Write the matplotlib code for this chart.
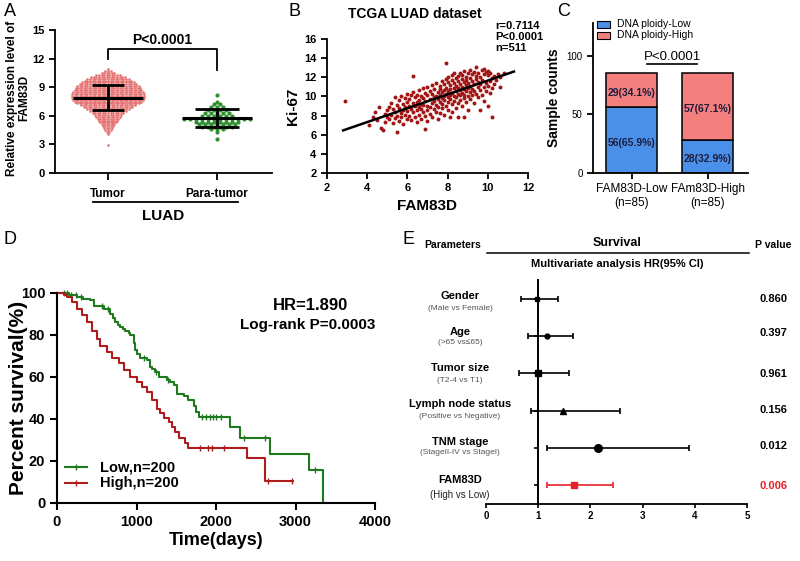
import numpy as np
import matplotlib
matplotlib.use('Agg')
import matplotlib.pyplot as plt
from matplotlib.lines import Line2D
from matplotlib.patches import Rectangle

plt.rcParams['font.family'] = ['Liberation Sans', 'DejaVu Sans']
plt.rcParams['font.weight'] = 'bold'
plt.rcParams['axes.labelweight'] = 'bold'
plt.rcParams['axes.titleweight'] = 'bold'
plt.rcParams['axes.linewidth'] = 1.3

# ---------------- DATA ----------------
# Panel A: beeswarm levels (value) and number of dots at each level
tumor_levels = [2.9, 4.1, 4.3, 4.5, 4.7, 4.9, 5.1, 5.3, 5.5, 5.7, 5.9, 6.1, 6.3, 6.5, 6.7, 6.9,
                7.1, 7.3, 7.5, 7.7, 7.9, 8.1, 8.3, 8.5, 8.7, 8.9, 9.1, 9.3, 9.5, 9.7, 9.9,
                10.1, 10.3, 10.5, 10.7, 10.9]
tumor_counts = [1, 1, 2, 3, 4, 5, 6, 7, 8, 9, 10, 11, 13, 15, 17, 20,
                22, 25, 27, 28, 29, 29, 29, 28, 27, 26, 25, 23, 21, 19, 17,
                14, 10, 6, 3, 1]
para_levels = [3.6, 4.3, 4.6, 4.8, 5.1, 5.4, 5.7, 6.0, 6.3, 6.6, 6.9, 7.2, 7.5, 8.2]
para_counts = [1, 1, 3, 6, 7, 8, 12, 6, 5, 4, 3, 2, 1, 1]
tumor_mean, tumor_sd_lo, tumor_sd_hi = 7.9, 6.6, 9.2
para_mean, para_sd_lo, para_sd_hi = 5.75, 4.8, 6.7
groupsA = ["Tumor", "Para-tumor"]

# Panel B: scatter FAM83D vs Ki-67
scatter_pts = [
    (2.9, 9.5), (4.1, 7.0), (4.3, 7.8), (4.4, 8.4), (4.5, 7.5), (4.6, 8.9), (4.7, 6.7), (4.8, 6.5),
    (4.9, 8.2), (4.9, 7.3), (5.0, 8.6), (5.0, 7.9),
    (5.1, 8.9), (5.1, 7.6), (5.2, 9.3), (5.2, 8.1), (5.3, 7.2), (5.3, 8.7), (5.4, 9.9), (5.4, 8.4),
    (5.4, 7.7), (5.5, 6.25), (5.5, 9.1), (5.5, 8.0), (5.6, 8.8), (5.6, 7.4), (5.6, 9.6), (5.7, 8.3),
    (5.7, 10.0), (5.7, 7.9), (5.8, 9.2), (5.8, 8.6), (5.8, 7.1), (5.9, 9.8), (5.9, 8.1), (5.9, 8.9),
    (6.0, 9.4), (6.0, 7.6), (6.0, 10.3), (6.0, 8.5), (6.1, 9.0), (6.1, 8.0), (6.1, 9.7), (6.2, 8.7),
    (6.2, 10.1), (6.2, 7.5), (6.3, 12.1),
    (6.3, 9.3), (6.3, 8.4), (6.3, 10.5), (6.4, 9.0), (6.4, 7.8), (6.4, 9.9), (6.5, 8.6), (6.5, 10.2),
    (6.5, 9.4), (6.5, 7.3), (6.6, 8.9), (6.6, 10.7), (6.6, 9.6), (6.6, 8.1), (6.7, 9.2), (6.7, 10.0),
    (6.7, 7.6), (6.7, 8.7), (6.8, 9.8), (6.8, 10.9), (6.8, 8.4), (6.8, 9.1), (6.9, 6.6), (6.9, 10.4),
    (6.9, 9.5), (6.9, 8.0), (7.0, 9.0), (7.0, 10.1), (7.0, 11.0), (7.0, 8.6), (7.0, 7.4), (7.1, 9.7),
    (7.1, 10.6), (7.1, 8.9), (7.1, 8.2), (7.2, 9.3), (7.2, 10.3), (7.2, 11.2), (7.2, 7.9), (7.3, 9.9),
    (7.3, 8.7), (7.3, 10.8), (7.3, 9.5), (7.4, 10.0), (7.4, 8.4), (7.4, 11.4), (7.4, 9.1), (7.5, 10.5),
    (7.5, 9.7), (7.5, 7.6), (7.5, 8.9),
    (7.6, 10.2), (7.6, 11.1), (7.6, 9.4), (7.6, 8.3), (7.6, 10.8), (7.7, 9.8), (7.7, 11.6), (7.7, 10.5),
    (7.7, 8.8), (7.7, 9.2), (7.8, 10.0), (7.8, 11.3), (7.8, 10.7), (7.8, 8.1), (7.8, 9.6), (7.9, 13.5),
    (7.9, 10.3), (7.9, 11.8), (7.9, 9.0), (7.9, 10.9), (8.0, 9.9), (8.0, 11.5), (8.0, 10.6), (8.0, 8.6),
    (8.0, 12.0), (8.0, 9.4), (8.1, 10.1), (8.1, 11.2), (8.1, 7.9), (8.1, 10.8), (8.1, 9.7), (8.2, 11.7),
    (8.2, 10.4), (8.2, 9.2), (8.2, 12.2), (8.2, 8.4), (8.3, 10.9), (8.3, 11.4), (8.3, 10.0), (8.3, 9.5),
    (8.3, 12.4), (8.4, 11.1), (8.4, 10.6), (8.4, 8.8), (8.4, 11.9), (8.4, 9.9), (8.5, 10.3), (8.5, 11.6),
    (8.5, 12.1), (8.5, 9.3), (8.5, 7.8), (8.5, 10.9),
    (8.6, 11.3), (8.6, 10.1), (8.6, 12.5), (8.6, 9.6), (8.6, 10.7), (8.7, 11.8), (8.7, 10.4), (8.7, 9.0),
    (8.7, 12.2), (8.7, 11.0), (8.8, 10.8), (8.8, 11.5), (8.8, 9.8), (8.8, 12.7), (8.8, 7.9), (8.8, 10.2),
    (8.9, 11.2), (8.9, 12.0), (8.9, 10.6), (8.9, 9.4), (8.9, 11.7), (9.0, 10.9), (9.0, 12.4), (9.0, 10.0),
    (9.0, 11.4), (9.0, 8.6), (9.1, 11.9), (9.1, 10.5), (9.1, 12.8), (9.1, 11.1), (9.1, 9.7), (9.2, 12.3),
    (9.2, 10.8), (9.2, 11.6), (9.2, 10.1), (9.3, 11.3), (9.3, 12.6), (9.3, 9.3), (9.3, 10.6), (9.4, 13.1),
    (9.4, 11.8), (9.4, 10.3), (9.4, 12.1), (9.5, 11.0), (9.5, 12.5), (9.5, 9.9), (9.5, 11.5),
    (9.6, 12.0), (9.6, 10.7), (9.6, 8.6), (9.6, 11.3), (9.7, 12.8), (9.7, 11.7), (9.7, 10.2), (9.8, 12.3),
    (9.8, 11.0), (9.8, 9.5), (9.8, 12.9), (9.9, 11.4), (9.9, 12.6), (9.9, 10.6), (10.0, 12.2), (10.0, 11.1),
    (10.0, 9.0), (10.0, 12.7), (10.1, 11.6), (10.1, 10.4), (10.1, 12.4), (10.2, 7.9), (10.2, 11.9),
    (10.2, 10.9), (10.3, 12.1), (10.3, 11.3), (10.4, 11.7), (10.5, 12.3), (10.6, 12.0), (10.6, 11.0),
    (10.8, 12.5),
]
fit_slope, fit_intercept = 0.7235, 4.424
fit_x_range = [2.8, 11.3]

# Panel C: stacked bars
c_groups = ["FAM83D-Low\n(n=85)", "FAm83D-High\n(n=85)"]
ploidy_low = [56, 28]
ploidy_high = [29, 57]
group_n = [85, 85]

# Panel D: Kaplan-Meier steps
low_t = [0, 150, 250, 330, 420, 460, 590, 670, 700, 733, 770, 796, 830, 860, 900, 920, 963, 985,
         1005, 1047, 1130, 1173, 1200, 1235, 1277, 1382, 1420, 1466, 1508, 1592, 1654, 1717, 1750,
         1780, 2178, 2304, 2680, 3175, 3351]
low_s = [100, 99, 98, 97, 96.5, 93.7, 92.6, 90, 88, 86, 85, 84, 83, 82, 81, 80, 76, 73,
         71, 69, 68, 65, 64, 62.5, 60, 58.5, 57.5, 56, 52, 51, 49, 46, 43.5,
         41, 36.4, 31, 23.4, 15.8, 0]
high_t = [0, 90, 125, 190, 250, 314, 377, 440, 502, 545, 628, 691, 775, 838, 921, 1005, 1068, 1131,
          1194, 1256, 1298, 1340, 1403, 1445, 1487, 1529, 1612, 1654, 2387, 2618, 2974]
high_s = [100, 99, 98, 95.7, 92.6, 89.4, 86.2, 82, 78, 75, 72, 69, 66.5, 63.3, 60, 57.8, 55.4, 53,
          49, 45, 42.7, 40.3, 38.8, 36.4, 34, 31, 28.5, 26, 21.4, 10.3, 10.3]
low_censor = [90, 130, 180, 240, 300, 560, 640, 1100, 1250, 1390, 1830, 1880, 1920, 1960, 2000,
              2060, 2350, 2620, 3250]
high_censor = [1800, 1900, 1950, 2100, 2650, 2960]

# Panel E: forest plot
params = ["Gender", "Age", "Tumor size", "Lymph node status", "TNM stage", "FAM83D"]
subs = ["(Male vs Female)", "(>65 vs\u226465)", "(T2-4 vs T1)", "(Positive vs Negative)",
        "(StageII-IV vs StageI)", "(High vs Low)"]
hr = [0.97, 1.16, 1.00, 1.48, 2.14, 1.69]
ci_lo = [0.68, 0.81, 0.64, 0.86, 1.16, 1.16]
ci_hi = [1.38, 1.66, 1.59, 2.57, 3.88, 2.44]
pvals = ["0.860", "0.397", "0.961", "0.156", "0.012", "0.006"]

# ---------------- FIGURE ----------------
W, H = 800, 561
fig = plt.figure(figsize=(8, 5.61), dpi=100)
fig.patch.set_facecolor('white')


def rect(l, t, r, b):
    return [l / W, 1 - b / H, (r - l) / W, (b - t) / H]


def T(x, y, s, **kw):
    kw.setdefault('ha', 'center')
    kw.setdefault('va', 'center')
    return fig.text(x / W, 1 - y / H, s, **kw)


def prism(ax, lw=1.3):
    for sp in ['top', 'right']:
        ax.spines[sp].set_visible(False)
    for sp in ['left', 'bottom']:
        ax.spines[sp].set_linewidth(lw)
    ax.tick_params(width=lw, length=4, direction='out')


# panel letters
for lab, x, y in [("A", 10, 12), ("B", 295, 11), ("C", 564, 11), ("D", 10, 240), ("E", 408, 239)]:
    T(x, y, lab, fontsize=13, fontweight='normal')

# ---- Panel A ----
axA = fig.add_axes(rect(55, 30, 272, 173))
prism(axA)
axA.set_xlim(0.514, 2.505)
axA.set_ylim(0, 15)


def swarm(levels, counts, xc, sp):
    xs, ys = [], []
    for lv, n in zip(levels, counts):
        for i in range(n):
            xs.append(xc + (i - (n - 1) / 2) * sp)
            ys.append(lv)
    return xs, ys


xs, ys = swarm(tumor_levels, tumor_counts, 1, 0.0236)
axA.scatter(xs, ys, s=3.5, c='#e57373', linewidths=0, zorder=2)
xs, ys = swarm(para_levels, para_counts, 2, 0.055)
axA.scatter(xs, ys, s=9, c='#2f8f2f', linewidths=0, zorder=2)
axA.hlines(tumor_mean, 1 - 0.32, 1 + 0.32, color='k', lw=2.2, zorder=3)
axA.hlines([tumor_sd_lo, tumor_sd_hi], 1 - 0.15, 1 + 0.15, color='k', lw=2.0, zorder=3)
axA.vlines(1, tumor_sd_lo, tumor_sd_hi, color='k', lw=2.0, zorder=3)
axA.hlines(para_mean, 2 - 0.32, 2 + 0.32, color='k', lw=2.2, zorder=3)
axA.hlines([para_sd_lo, para_sd_hi], 2 - 0.2, 2 + 0.2, color='k', lw=2.0, zorder=3)
axA.vlines(2, para_sd_lo, para_sd_hi, color='k', lw=2.0, zorder=3)
axA.plot([1, 1, 2, 2], [12.0, 13.0, 13.0, 10.8], color='k', lw=1.3)
axA.text(1.5, 14.0, "P<0.0001", ha='center', va='center', fontsize=10)
axA.set_yticks([0, 3, 6, 9, 12, 15])
axA.set_xticks([1, 2])
axA.set_xticklabels(groupsA, fontsize=8.5)
axA.tick_params(axis='y', labelsize=8)
axA.tick_params(axis='x', length=5, pad=6)
T(18, 98, "Relative expression level of\nFAM83D", rotation=90, fontsize=8.5, linespacing=1.1)
fig.add_artist(Line2D([93 / W, 238 / W], [1 - 202 / H, 1 - 202 / H], color='k', lw=1.3))
T(163, 216, "LUAD", fontsize=11)

# ---- Panel B ----
axB = fig.add_axes(rect(327, 39, 528, 173))
prism(axB)
axB.set_xlim(2, 12)
axB.set_ylim(2, 16)
bx = [p[0] for p in scatter_pts]
by = [p[1] for p in scatter_pts]
axB.scatter(bx, by, s=8, c='#a31515', linewidths=0, zorder=2)
fx = np.array(fit_x_range)
axB.plot(fx, fit_intercept + fit_slope * fx, color='k', lw=1.8, zorder=3)
axB.set_xticks([2, 4, 6, 8, 10, 12])
axB.set_yticks([2, 4, 6, 8, 10, 12, 14, 16])
axB.tick_params(labelsize=8)
axB.set_xlabel("FAM83D", fontsize=11, labelpad=4)
axB.set_ylabel("Ki-67", fontsize=11, labelpad=3)
T(415, 14, "TCGA LUAD dataset", fontsize=10)
T(495, 21, "r=0.7114\nP<0.0001\nn=511", ha='left', va='top', fontsize=8, linespacing=1.15)

# ---- Panel C ----
axC = fig.add_axes(rect(593, 23, 748, 173))
prism(axC)
xc = np.arange(len(c_groups))
axC.bar(xc, ploidy_low, width=0.67, color='#4a8fe8', edgecolor='k', lw=1.1)
axC.bar(xc, ploidy_high, bottom=ploidy_low, width=0.67, color='#f47f7f', edgecolor='k', lw=1.1)
for i in range(len(c_groups)):
    lo, hi, n = ploidy_low[i], ploidy_high[i], group_n[i]
    axC.text(xc[i], lo / 2 - 2, f"{lo}({lo / n * 100:.1f}%)", ha='center', va='center',
             fontsize=7.5, color='#1c1c3c')
    axC.text(xc[i], lo + hi / 2 - 2, f"{hi}({hi / n * 100:.1f}%)", ha='center', va='center',
             fontsize=7.5, color='#1c1c3c')
axC.set_xlim(-0.51, 1.53)
axC.set_ylim(0, 128)
axC.set_yticks([0, 50, 100])
axC.set_xticks(xc)
axC.set_xticklabels(c_groups, fontsize=8.5, fontweight='normal', linespacing=1.2)
axC.tick_params(axis='y', labelsize=7)
for lbl in axC.get_yticklabels():
    lbl.set_fontweight('normal')
axC.set_ylabel("Sample counts", fontsize=10, labelpad=4)
axC.text(0.53, 99, "P<0.0001", ha='center', va='center', fontsize=9.5, fontweight='normal')
axC.plot([0.2, 0.86], [93, 93], color='k', lw=1.2)
for (yy, col, lab) in [(24, '#4a8fe8', "DNA ploidy-Low"), (35, '#f47f7f', "DNA ploidy-High")]:
    fig.add_artist(Rectangle((597 / W, 1 - (yy + 3.5) / H), 13 / W, 7 / H, facecolor=col,
                             edgecolor='k', lw=0.8))
    T(617, yy, lab, ha='left', fontsize=7.5, fontweight='normal')

# ---- Panel D ----
axD = fig.add_axes(rect(57, 293, 375, 503))
prism(axD, lw=1.5)
axD.set_xlim(0, 4000)
axD.set_ylim(0, 100)
green, red = '#1f7a1f', '#b01c1c'
for t, s, cens, col in [(low_t, low_s, low_censor, green), (high_t, high_s, high_censor, red)]:
    t = np.array(t); s = np.array(s)
    axD.step(t, s, where='post', color=col, lw=1.5, clip_on=False)
    idx = np.searchsorted(t, np.array(cens), side='right') - 1
    axD.plot(cens, s[idx], ls='none', marker='|', ms=4, mew=1.0, color=col, clip_on=False)
axD.set_xticks([0, 1000, 2000, 3000, 4000])
axD.set_yticks([0, 20, 40, 60, 80, 100])
axD.tick_params(labelsize=10.5, length=5)
axD.set_xlabel("Time(days)", fontsize=13, labelpad=2)
T(19, 398, "Percent survival(%)", rotation=90, fontsize=15)
T(311, 306, "HR=1.890", fontsize=12)
T(308, 325, "Log-rank P=0.0003", fontsize=11)
for yy, col, lab in [(467, green, "Low,n=200"), (483, red, "High,n=200")]:
    fig.add_artist(Line2D([65 / W, 87 / W], [1 - yy / H, 1 - yy / H], color=col, lw=1.5))
    fig.add_artist(Line2D([76 / W], [1 - yy / H], color=col, marker='|', ms=4, mew=1.0))
    T(100, yy, lab, ha='left', fontsize=10.5)

# ---- Panel E ----
axE = fig.add_axes(rect(486, 280, 747, 504))
axE.set_xlim(0, 5)
axE.set_ylim(0.5, 6.5)
for sp in ['top', 'right']:
    axE.spines[sp].set_visible(False)
axE.spines['left'].set_position(('data', 1))
axE.spines['left'].set_linewidth(1.4)
axE.spines['bottom'].set_linewidth(1.3)
rows = [6, 5, 4, 3, 2, 1]
styles = [('s', 3.5, 'k'), ('o', 3.5, 'k'), ('s', 5, 'k'), ('^', 4.5, 'k'), ('o', 5.5, 'k'),
          ('s', 4.5, '#e8202a')]
for i, y in enumerate(rows):
    m, ms, col = styles[i]
    axE.errorbar(hr[i], y, xerr=[[hr[i] - ci_lo[i]], [ci_hi[i] - hr[i]]], fmt=m, ms=ms,
                 color=col, ecolor=col, elinewidth=1.2, capsize=2.5, capthick=1.2, zorder=3)
axE.set_yticks(rows)
axE.set_yticklabels([])
axE.tick_params(axis='y', length=3, width=1.2, direction='out')
axE.set_xticks([0, 1, 2, 3, 4, 5])
axE.tick_params(axis='x', length=3, width=1.2, labelsize=7, pad=2)

T(453, 245, "Parameters", fontsize=7.5)
T(617, 243, "Survival", fontsize=9)
fig.add_artist(Line2D([487 / W, 749 / W], [1 - 253 / H, 1 - 253 / H], color='k', lw=1.1))
T(617, 264, "Multivariate analysis HR(95% CI)", fontsize=8)
T(773, 245, "P value", fontsize=7.5)
name_y = [296, 332, 368, 404, 442, 480]
sub_y = [308, 343, 381, 417, 453, 495]
p_y = [299, 333, 374, 410, 446, 486]
for i in range(len(params)):
    T(460, name_y[i], params[i], fontsize=8)
    if i == len(params) - 1:
        T(460, sub_y[i], subs[i], fontsize=7, fontweight='normal', color='#222222')
    else:
        T(460, sub_y[i], subs[i], fontsize=6, fontweight='normal', color='#555555')
    T(773, p_y[i], pvals[i], fontsize=8, color='#e8202a' if i == len(params) - 1 else 'k')

fig.savefig('out.png', dpi=100, facecolor='white')
